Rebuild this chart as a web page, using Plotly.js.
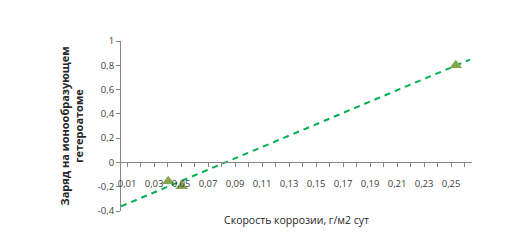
<!DOCTYPE html>
<html>
<head>
<meta charset="utf-8">
<script src="https://cdn.plot.ly/plotly-3.0.1.min.js"></script>
<style>html,body{margin:0;padding:0;background:#fff;}#chart{width:512px;height:251px;}</style>
</head>
<body>
<div id="chart"></div>
<script>
// Data
const corrosionRate = [0.0405, 0.0505, 0.2535];   // Скорость коррозии, г/м2 сут
const heteroatomCharge = [-0.155, -0.196, 0.800]; // Заряд на ионообразующем гетероатоме

// Axis ticks
const xTickVals = [0.01, 0.03, 0.05, 0.07, 0.09, 0.11, 0.13, 0.15, 0.17, 0.19, 0.21, 0.23, 0.25];
const xTickText = ["0,01", "0,03", "0,05", "0,07", "0,09", "0,11", "0,13", "0,15", "0,17", "0,19", "0,21", "0,23", "0,25"];
const yTickVals = [-0.4, -0.2, 0, 0.2, 0.4, 0.6, 0.8, 1];
const yTickText = ["-0,4", "-0,2", "0", "0,2", "0,4", "0,6", "0,8", "1"];
const xRange = [0.0055, 0.2655];
const yRange = [-0.4, 1];

// Linear trendline (least squares) over the full x-axis range
function linearFit(xs, ys) {
  const n = xs.length;
  const mx = xs.reduce((a, b) => a + b, 0) / n;
  const my = ys.reduce((a, b) => a + b, 0) / n;
  let sxy = 0, sxx = 0;
  for (let i = 0; i < n; i++) { sxy += (xs[i] - mx) * (ys[i] - my); sxx += (xs[i] - mx) ** 2; }
  const slope = sxy / sxx;
  return { slope, intercept: my - slope * mx };
}
const fit = linearFit(corrosionRate, heteroatomCharge);
const trendX = [xRange[0], xRange[1] - 0.0015];
const trendY = trendX.map(x => fit.intercept + fit.slope * x);

const font = "Open Sans, DejaVu Sans, sans-serif";

const traces = [
  {
    x: trendX, y: trendY, mode: 'lines', type: 'scatter',
    line: { color: '#00B050', width: 2, dash: '6px,5px' },
    hoverinfo: 'skip', showlegend: false
  },
  {
    x: corrosionRate, y: heteroatomCharge, mode: 'markers', type: 'scatter',
    marker: { symbol: 'triangle-up', size: 11, color: '#86A84A', line: { width: 0 } },
    showlegend: false
  }
];

const layout = {
  width: 512, height: 251,
  margin: { l: 121, r: 40, t: 41, b: 40 },
  paper_bgcolor: '#ffffff', plot_bgcolor: '#ffffff',
  showlegend: false,
  font: { family: font, size: 9, color: '#595959' },
  xaxis: {
    range: xRange,
    anchor: 'free',
    position: (0 - yRange[0]) / (yRange[1] - yRange[0]),
    tickmode: 'array', tickvals: xTickVals, ticktext: xTickText,
    ticks: 'outside', ticklen: 4, tickcolor: '#868686', tickwidth: 1,
    minor: { dtick: 0.01, tick0: 0.01, ticks: 'outside', ticklen: 4, tickcolor: '#868686', showgrid: false },
    showline: true, linecolor: '#868686', linewidth: 1,
    showgrid: false, zeroline: false,
    ticklabelstandoff: 8,
    tickfont: { family: font, size: 9.5, color: '#404040' },
    title: { text: 'Скорость коррозии, г/м2 сут', font: { family: font, size: 10.5, color: '#262626' }, standoff: 27 }
  },
  yaxis: {
    range: yRange,
    tickmode: 'array', tickvals: yTickVals, ticktext: yTickText,
    ticks: 'outside', ticklen: 4, tickcolor: '#868686',
    showline: true, linecolor: '#868686', linewidth: 1,
    showgrid: false, zeroline: false,
    tickfont: { family: font, size: 9.5, color: '#404040' },
    title: { text: '<b>Заряд на ионообразующем<br>гетероатоме</b>', font: { family: font, size: 11, color: '#262626' }, standoff: 11 }
  }
};

Plotly.newPlot('chart', traces, layout, { staticPlot: true, displayModeBar: false });
</script>
</body>
</html>
